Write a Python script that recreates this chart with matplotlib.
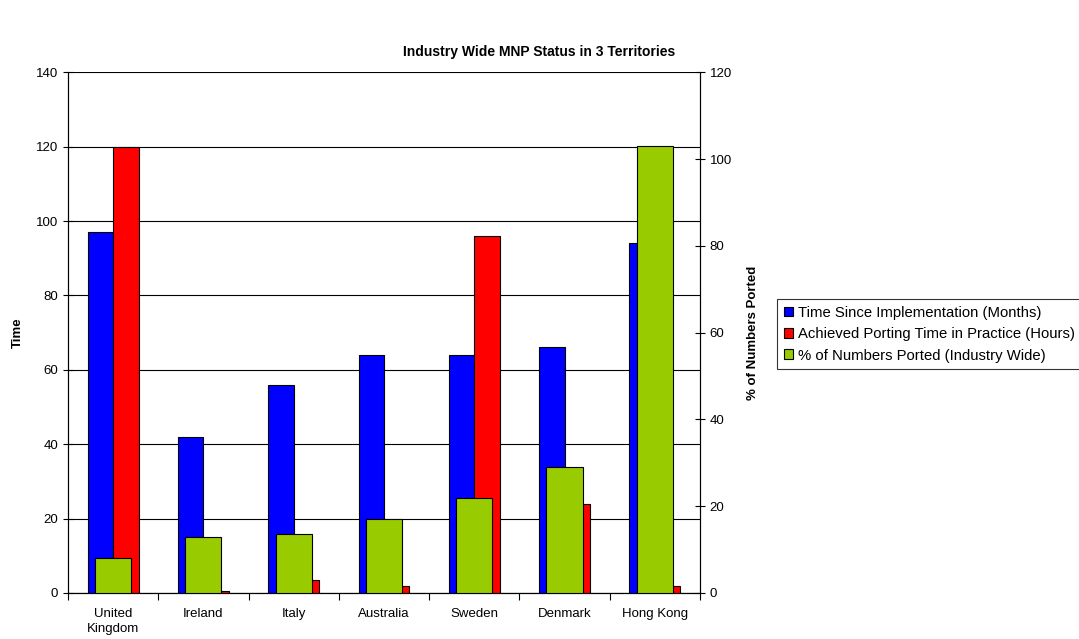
import numpy as np
import matplotlib.pyplot as plt
from matplotlib.patches import Patch

plt.rcParams['font.family'] = ['Liberation Sans', 'DejaVu Sans']

countries = ["United\nKingdom", "Ireland", "Italy", "Australia", "Sweden", "Denmark", "Hong Kong"]
months_since = [97, 42, 56, 64, 64, 66, 94]
porting_hours = [120, 0.5, 3.5, 2, 96, 24, 2]
pct_ported = [8, 13, 13.5, 17, 22, 29, 103]

blue = '#0000ff'
red = '#ff0000'
green = '#99cc00'

fig = plt.figure(figsize=(10.79, 6.39), dpi=100)
ax = fig.add_axes([0.0630, 0.072, 0.5857, 0.815])
ax2 = ax.twinx()

x = np.arange(len(countries))
w = 0.282
ax.bar(x - w / 2, months_since, w, color=blue, edgecolor='black', linewidth=0.8, zorder=3)
ax.bar(x + w / 2, porting_hours, w, color=red, edgecolor='black', linewidth=0.8, zorder=3)
ax2.bar(x, pct_ported, 0.40, color=green, edgecolor='black', linewidth=0.8, zorder=3)

ax.set_xlim(-0.5, len(countries) - 0.5)
ax.set_ylim(0, 140)
ax2.set_ylim(0, 120)
ax.set_yticks(np.arange(0, 141, 20))
ax2.set_yticks(np.arange(0, 121, 20))

ax.yaxis.grid(True, color='black', linewidth=0.8, zorder=0)
ax.set_axisbelow(True)

ax.set_xticks(x)
ax.set_xticklabels(countries, fontsize=9.5, linespacing=1.35)
ax.set_xticks(np.arange(-0.5, len(countries), 1), minor=True)
ax.tick_params(axis='x', which='major', length=0, pad=11)
ax.tick_params(axis='x', which='minor', length=5, width=0.8, direction='out')
ax.tick_params(axis='y', labelsize=9.5, direction='inout', length=7, width=0.8)
ax2.tick_params(axis='y', labelsize=9.5, direction='inout', length=7, width=0.8)

for a in (ax, ax2):
    a.spines['top'].set_visible(False)
    for s in ('left', 'right', 'bottom'):
        a.spines[s].set_linewidth(0.8)

ax.set_ylabel('Time', fontsize=9.5, fontweight='bold', labelpad=9)
ax2.set_ylabel('% of Numbers Ported', fontsize=9.5, fontweight='bold', labelpad=11)

fig.text(0.5, 0.919, 'Industry Wide MNP Status in 3 Territories', fontsize=10,
         fontweight='bold', ha='center', va='center')

handles = [Patch(facecolor=blue, edgecolor='black', linewidth=0.8),
           Patch(facecolor=red, edgecolor='black', linewidth=0.8),
           Patch(facecolor=green, edgecolor='black', linewidth=0.8)]
labels = ["Time Since Implementation (Months)",
          "Achieved Porting Time in Practice (Hours)",
          "% of Numbers Ported (Industry Wide)"]
leg = fig.legend(handles, labels, loc='upper left', bbox_to_anchor=(0.720, 0.532),
                 fontsize=10.7, frameon=True, fancybox=False, edgecolor='black',
                 handlelength=0.65, handleheight=0.65, handletextpad=0.3,
                 borderpad=0.45, labelspacing=0.5, borderaxespad=0)
leg.get_frame().set_linewidth(0.8)

fig.savefig('out.png', dpi=100)
